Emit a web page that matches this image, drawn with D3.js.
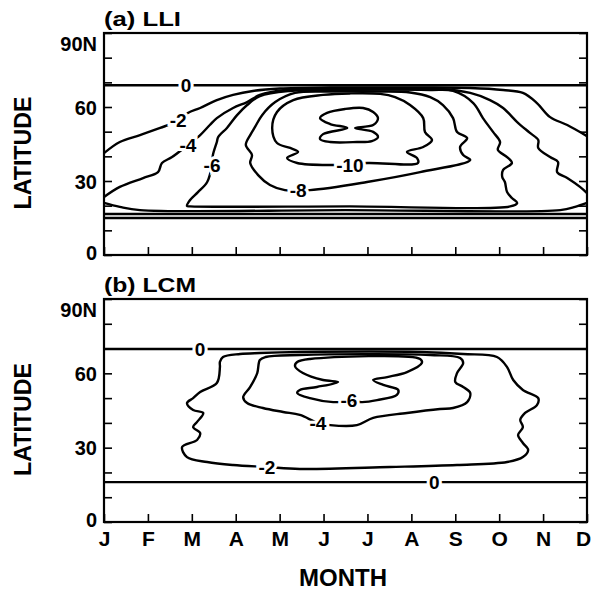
<!DOCTYPE html>
<html lang="en">
<head>
<meta charset="UTF-8">
<title>LLI / LCM contours</title>
<script src="https://d3js.org/d3.v7.min.js"></script>
<style>
  body { margin: 0; background: #fff; }
  text { font-family: "Liberation Sans", Arial, sans-serif; font-weight: bold; fill: #000; }
</style>
</head>
<body>
<script>
// month axis, latitude axis
var months = ["J", "F", "M", "A", "M", "J", "J", "A", "S", "O", "N", "D"];
var latTicks = [0, 10, 20, 30, 40, 50, 60, 70, 80, 90];
var latLabels = {0: "0", 30: "30", 60: "60", 90: "90N"};

// contour lines, points are [month index, latitude]
// (a) LLI
var lliZeroTop = [[0, 68.8], [11, 68.8]];
var lliZeroBottom = [[0, 15.0], [11, 15.0]];
var lliM2Bottom = [[0, 16.6], [11, 16.6]];
var lliM4Bottom = [[0, 21.1], [0.36, 19.5], [0.82, 18.2], [5.5, 18.2], [10.39, 18.2], [10.73, 19.5], [11, 21.1]];
var lliM2Top = [[0, 41.3], [0.36, 45.8], [0.82, 48.6], [1.28, 51.5], [1.69, 54.5], [1.91, 57.6], [2.19, 59.6],
  [2.57, 62.8], [2.94, 64.9], [3.39, 66.5], [4.01, 67.5], [5.15, 67.9], [7.2, 67.9], [8.34, 67.7],
  [9.09, 66.9], [9.54, 65.7], [9.86, 61.6], [10.16, 55.9], [10.55, 52.7], [11, 48.2]];
var lliM4Top = [[0, 23.5], [0.36, 27.6], [0.89, 31.2], [1.23, 33.6], [1.32, 37.3], [1.55, 39.7], [1.91, 44.6],
  [2.19, 48.6], [2.41, 52.7], [2.57, 55.5], [2.94, 59.6], [3.26, 62.0], [3.55, 64.9], [4.12, 66.9],
  [5.15, 67.3], [7.65, 67.3], [8.34, 65.7], [8.79, 62.8], [9.09, 59.6], [9.41, 53.9], [9.7, 49.5],
  [9.89, 46.6], [9.89, 43.4], [10.16, 39.7], [10.34, 37.7], [10.32, 33.6], [10.55, 31.2], [10.84, 27.6], [11, 25.1]];
var lliM6 = [[1.89, 19.9], [1.96, 22.3], [2.14, 25.5], [2.35, 29.6], [2.46, 36.5], [2.48, 40.5], [2.57, 45.8],
  [2.6, 47.8], [2.8, 51.5], [3.03, 56.7], [3.26, 60.8], [3.55, 64.4], [4.24, 66.5], [5.15, 66.9], [7.43, 66.9],
  [7.95, 66.5], [8.41, 61.6], [8.63, 55.5], [8.86, 49.9], [9.02, 45.8], [8.97, 42.6], [9.18, 39.7], [9.29, 37.3],
  [9.09, 34.5], [9.07, 31.6], [9.13, 29.6], [9.18, 25.5], [9.29, 23.1], [9.41, 21.1], [9.25, 19.7],
  [5.6, 19.7], [1.96, 19.7]];
var lliM8 = [[4.12, 26.3], [3.78, 28.4], [3.51, 32.4], [3.33, 37.3], [3.37, 40.5], [3.23, 44.6], [3.33, 48.6],
  [3.44, 51.9], [3.6, 56.7], [3.9, 62.0], [4.35, 65.7], [5.15, 66.3], [6.29, 66.3], [6.97, 65.9], [7.43, 64.0],
  [7.72, 60.8], [7.95, 55.5], [8.04, 49.9], [8.27, 47.4], [8.11, 43.8], [8.18, 40.5], [8.34, 38.5],
  [7.2, 33.6], [5.99, 29.6], [4.69, 26.3]];
var lliM10 = [[5.15, 36.5], [4.4, 37.3], [4.17, 39.3], [4.42, 41.8], [4.24, 43.4], [3.94, 45.4], [3.83, 51.5],
  [3.94, 58.0], [4.31, 62.8], [4.99, 64.9], [5.6, 65.5], [6.29, 65.3], [6.63, 64.0], [6.97, 60.8], [7.27, 55.5],
  [7.31, 49.9], [7.47, 46.6], [7.27, 43.8], [6.9, 41.8], [7.13, 39.3], [7.15, 37.3], [6.01, 37.3]];
var lliM12 = [[4.92, 55.5], [5.08, 57.6], [5.49, 59.2], [5.9, 59.6], [6.13, 58.0], [6.24, 55.5], [6.13, 52.7],
  [5.72, 51.5], [6.13, 49.9], [6.24, 47.8], [6.1, 46.2], [5.76, 45.8], [5.15, 45.8], [4.92, 47.0],
  [4.99, 49.0], [5.54, 51.5], [5.15, 53.1]];
var lliLines = [
  {pts: lliZeroTop, closed: false}, {pts: lliZeroBottom, closed: false},
  {pts: lliM2Bottom, closed: false}, {pts: lliM4Bottom, closed: false},
  {pts: lliM2Top, closed: false}, {pts: lliM4Top, closed: false},
  {pts: lliM6, closed: true}, {pts: lliM8, closed: true},
  {pts: lliM10, closed: true}, {pts: lliM12, closed: true}];
var lliLabels = [["0", 1.87, 68.8], ["-2", 1.69, 54.7], ["-4", 1.91, 44.6], ["-6", 2.46, 36.5],
  ["-8", 4.42, 26.3], ["-10", 5.6, 36.5]];

// (b) LCM
var lcmZeroTop = [[0, 69.8], [11, 69.8]];
var lcmZeroBottom = [[0, 16.1], [11, 16.1]];
var lcmM2 = [[3.1, 67.8], [2.71, 66.6], [2.64, 64.6], [2.64, 62.5], [2.57, 56.1], [2.19, 52.5], [2.03, 50.0],
  [1.89, 48.0], [2.03, 45.2], [2.26, 44.0], [2.12, 40.4], [2.03, 38.3], [2.19, 35.9], [2.12, 33.1],
  [1.78, 30.3], [1.89, 26.2], [2.35, 24.2], [2.94, 23.0], [3.71, 22.2], [4.46, 21.4], [6.51, 22.2],
  [8.04, 23.0], [9.18, 24.2], [9.54, 26.2], [9.66, 29.1], [9.54, 31.9], [9.43, 35.1], [9.54, 38.3],
  [9.48, 41.2], [9.59, 44.0], [9.86, 47.2], [9.89, 50.0], [9.54, 53.3], [9.32, 57.3], [9.18, 62.5],
  [8.95, 66.6], [8.18, 67.8], [7.2, 68.6], [4.46, 68.6], [3.55, 68.2]];
var lcmM4 = [[4.46, 67.4], [3.68, 66.6], [3.55, 65.4], [3.49, 60.1], [3.33, 54.5], [3.17, 50.4], [3.26, 48.0],
  [3.62, 46.0], [4.08, 44.4], [4.46, 43.2], [4.87, 40.0], [5.15, 39.1], [5.76, 39.1], [6.13, 42.0],
  [6.9, 44.0], [7.65, 45.6], [7.95, 46.0], [8.27, 48.4], [8.34, 52.1], [8.18, 54.5], [8.0, 56.5],
  [8.04, 60.1], [8.18, 64.2], [8.11, 66.2], [7.43, 67.4]];
var lcmM6 = [[4.4, 64.6], [4.69, 65.8], [7.2, 65.8], [7.24, 64.2], [6.9, 60.5], [6.45, 58.5], [6.13, 57.3],
  [6.36, 55.3], [6.7, 53.3], [6.67, 51.3], [6.22, 49.2], [5.88, 48.4], [5.6, 48.8], [5.22, 48.4],
  [4.69, 50.0], [4.4, 52.1], [4.46, 53.3], [4.85, 54.5], [5.33, 56.5], [4.99, 57.3], [4.53, 60.1], [4.35, 62.9]];
var lcmLines = [
  {pts: lcmZeroTop, closed: false}, {pts: lcmZeroBottom, closed: false},
  {pts: lcmM2, closed: true}, {pts: lcmM4, closed: true}, {pts: lcmM6, closed: true}];
var lcmLabels = [["0", 2.19, 69.8], ["0", 7.52, 16.1], ["-2", 3.71, 22.2], ["-4", 4.87, 39.8], ["-6", 5.58, 49.0]];

var w = 593, h = 591;
var left = 104, right = 587;

var svg = d3.select("body").append("svg")
  .attr("width", w).attr("height", h);

var x = d3.scaleLinear().domain([0, 11]).range([left, right]);

function panel(top, bottom, title, titleLen, lines, labels, showMonths) {
  var y = d3.scaleLinear().domain([0, 90]).range([bottom, top]);
  var g = svg.append("g");

  var openLine = d3.line().x(d => x(d[0])).y(d => y(d[1])).curve(d3.curveCatmullRom.alpha(0.5));
  var closedLine = d3.line().x(d => x(d[0])).y(d => y(d[1])).curve(d3.curveCatmullRomClosed.alpha(0.5));

  g.selectAll("path.c")
    .data(lines)
    .join("path")
    .attr("class", "c")
    .attr("d", d => d.closed ? closedLine(d.pts) : openLine(d.pts))
    .attr("fill", "none")
    .attr("stroke", "#000")
    .attr("stroke-width", 2.4)
    .attr("stroke-linejoin", "round");

  // contour labels, white halo makes the break in the line
  g.selectAll("text.lab")
    .data(labels)
    .join("text")
    .attr("class", "lab")
    .attr("x", d => x(d[1]))
    .attr("y", d => y(d[2]))
    .attr("dy", "0.36em")
    .attr("text-anchor", "middle")
    .style("font-size", "19px")
    .style("stroke", "#fff")
    .style("stroke-width", 6)
    .style("paint-order", "stroke")
    .text(d => d[0]);

  // left axis
  var yl = g.append("g").attr("transform", "translate(" + left + ",0)")
    .call(d3.axisLeft(y).tickValues(latTicks).tickSize(-8).tickPadding(7)
      .tickFormat(d => latLabels[d] || ""));
  yl.select(".domain").remove();
  yl.selectAll("line").attr("stroke-width", 1.6);
  yl.selectAll("text").style("font-size", "20px").attr("font-family", null)
    .attr("dy", d => d == 90 ? "0.85em" : d == 0 ? "0.22em" : "0.36em");

  // right axis
  var yr = g.append("g").attr("transform", "translate(" + right + ",0)")
    .call(d3.axisRight(y).tickValues(latTicks).tickSize(-8).tickFormat(""));
  yr.select(".domain").remove();
  yr.selectAll("line").attr("stroke-width", 1.6);

  // bottom axis
  var xb = g.append("g").attr("transform", "translate(0," + bottom + ")")
    .call(d3.axisBottom(x).tickValues(d3.range(months.length)).tickSize(-8).tickPadding(9)
      .tickFormat(d => showMonths ? months[d] : ""));
  xb.select(".domain").remove();
  xb.selectAll("line").attr("stroke-width", 1.6);
  xb.selectAll("text").style("font-size", "21px").attr("font-family", null)
    .attr("x", d => d == months.length - 1 ? -4 : 0);

  g.append("rect")
    .attr("x", left).attr("y", top)
    .attr("width", right - left).attr("height", bottom - top)
    .attr("fill", "none").attr("stroke", "#000").attr("stroke-width", 2.2);

  g.append("text")
    .attr("x", left).attr("y", top - 7)
    .attr("textLength", titleLen).attr("lengthAdjust", "spacingAndGlyphs")
    .style("font-size", "21px")
    .text(title);

  g.append("text")
    .attr("transform", "translate(31," + ((top + bottom) / 2 + 9) + ") rotate(-90)")
    .attr("text-anchor", "middle")
    .attr("textLength", 113).attr("lengthAdjust", "spacingAndGlyphs")
    .style("font-size", "24px")
    .text("LATITUDE");
}

panel(33, 255, "(a) LLI", 77, lliLines, lliLabels, false);
panel(299, 522, "(b) LCM", 92, lcmLines, lcmLabels, true);

svg.append("text")
  .attr("x", 343).attr("y", 586)
  .attr("text-anchor", "middle")
  .style("font-size", "24px")
  .text("MONTH");
</script>
</body>
</html>
